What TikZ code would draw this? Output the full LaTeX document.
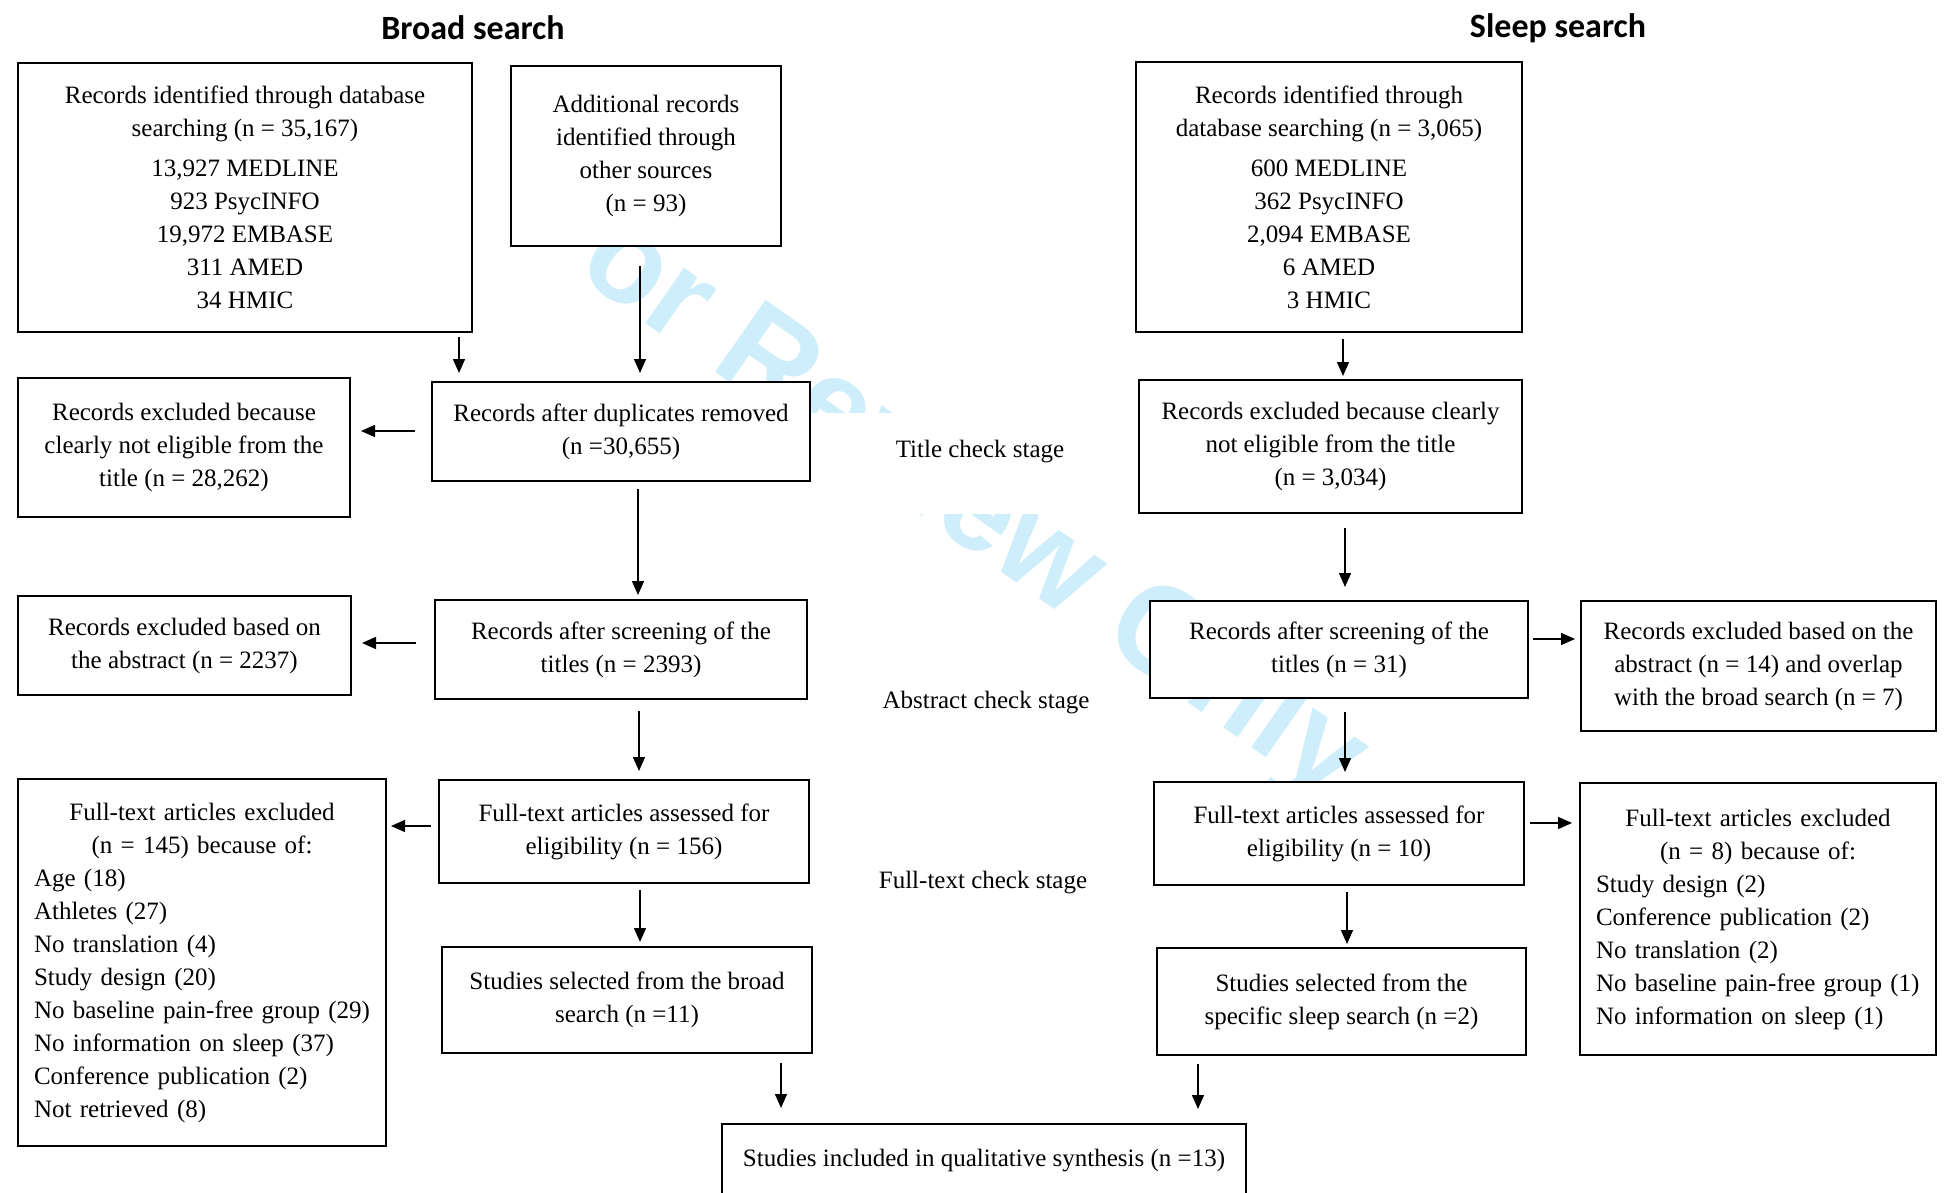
\documentclass[tikz,border=0pt]{standalone}
\usepackage{fontspec}
\setmainfont{Liberation Serif}
\newfontfamily\titlefont{Carlito}
\newfontfamily\markfont{Liberation Sans}
\usetikzlibrary{arrows.meta}
\definecolor{markblue}{RGB}{206,238,251}

\tikzstyle{box} = [draw, fill=white, line width=1pt, align=center, inner sep=0pt]
\tikzstyle{listbox} = [box, align=left]
\tikzstyle{stage} = [fill=white, inner sep=2pt]
\tikzstyle{heading} = [font=\titlefont\bfseries\fontsize{17}{20}\selectfont]
\tikzstyle{flow} = [-{Triangle[length=7pt,width=6pt]}, line width=0.75pt]

\begin{document}
\begin{tikzpicture}[x=0.5pt, y=-0.5pt, font=\fontsize{12.5}{16.5}\selectfont]
\path[use as bounding box, fill=white] (0,0) rectangle (1944,1193);
\clip (0,0) rectangle (1944,1193);
%watermark
\node[text=markblue, rotate=-35, font=\markfont\bfseries\fontsize{64}{64}\selectfont] (mark) at (940,489) {For Review Only};
%stages
\node[stage, anchor=north, minimum width=175pt, inner sep=0pt, text height=22pt, text depth=28.5pt] (titlestage) at (980,413) {Title check stage};
\node[stage] (abstractstage) at (986,703) {Abstract check stage};
\node[stage] (fulltextstage) at (983,883) {Full-text check stage};
%headings
\node[heading] (broad) at (473,28) {Broad search};
\node[heading] (sleep) at (1558,28) {Sleep search};

%begin broad search
\node[box, minimum width=227pt, minimum height=134.5pt] (bdb) at (245,197.5)
    {Records identified through database\\ searching (n = 35,167)\\[3.5pt]
     13,927 MEDLINE\\ 923 PsycINFO\\ 19,972 EMBASE\\ 311 AMED\\ 34 HMIC};
\node[box, minimum width=135pt, minimum height=90pt] (bother) at (646,156)
    {Additional records\\ identified through\\ other sources\\ (n = 93)};
\node[box, minimum width=189pt, minimum height=49.5pt] (bdup) at (621,431.5)
    {Records after duplicates removed\\ (n =30,655)};
\node[box, minimum width=166pt, minimum height=69.5pt] (btitle) at (184,447.5)
    {Records excluded because\\ clearly not eligible from the\\ title (n = 28,262)};
\node[box, minimum width=186pt, minimum height=49.5pt] (bscreen) at (621,649.5)
    {Records after screening of the\\ titles (n = 2393)};
\node[box, minimum width=166.5pt, minimum height=49.5pt] (babstract) at (184.5,645.5)
    {Records excluded based on\\ the abstract (n = 2237)};
\node[box, minimum width=185pt, minimum height=51.5pt] (bfull) at (624,831.5)
    {Full-text articles assessed for\\ eligibility (n = 156)};
\node[listbox, text width=168pt, minimum width=184pt, minimum height=183.5pt] (bfullex) at (202,962.5)
    {\noindent\makebox[\hsize]{Full-text articles excluded}\\
     \makebox[\hsize]{(n = 145) because of:}\\
     Age (18)\\ Athletes (27)\\ No translation (4)\\ Study design (20)\\
     No baseline pain-free group (29)\\ No information on sleep (37)\\
     Conference publication (2)\\ Not retrieved (8)};
\node[box, minimum width=185pt, minimum height=53pt] (bselect) at (627,1000)
    {Studies selected from the broad\\ search (n =11)};
%end broad search

%begin sleep search
\node[box, minimum width=193pt, minimum height=135pt] (sdb) at (1329,197)
    {Records identified through\\ database searching (n = 3,065)\\[3.5pt]
     600 MEDLINE\\ 362 PsycINFO\\ 2,094 EMBASE\\ 6 AMED\\ 3 HMIC};
\node[box, minimum width=191.5pt, minimum height=66.5pt] (stitle) at (1330.5,446.5)
    {Records excluded because clearly\\ not eligible from the title\\ (n = 3,034)};
\node[box, minimum width=189pt, minimum height=48.5pt] (sscreen) at (1339,649.5)
    {Records after screening of the\\ titles (n = 31)};
\node[box, minimum width=177.5pt, minimum height=65pt] (sabstract) at (1758.5,666)
    {Records excluded based on the\\ abstract (n = 14) and overlap\\ with the broad search (n = 7)};
\node[box, minimum width=185pt, minimum height=51.5pt] (sfull) at (1339,833.5)
    {Full-text articles assessed for\\ eligibility (n = 10)};
\node[listbox, text width=162pt, minimum width=178pt, minimum height=136pt] (sfullex) at (1758,919)
    {\noindent\makebox[\hsize]{Full-text articles excluded}\\
     \makebox[\hsize]{(n = 8) because of:}\\
     Study design (2)\\ Conference publication (2)\\ No translation (2)\\
     No baseline pain-free group (1)\\ No information on sleep (1)};
\node[box, minimum width=184.5pt, minimum height=53.5pt] (sselect) at (1341.5,1001.5)
    {Studies selected from the\\ specific sleep search (n =2)};
%end sleep search

\node[box, minimum width=262pt, minimum height=50pt] (final) at (984,1174)
    {Studies included in qualitative synthesis (n =13)\\ \mbox{}};

%begin arrows broad
\draw[flow, shorten <=2pt, shorten >=4pt] ([xshift=107pt]bdb.south) -- ([xshift=-81pt]bdup.north);
\draw[flow, shorten <=9.5pt, shorten >=4pt] ([xshift=-3pt]bother.south) -- ([xshift=9.5pt]bdup.north);
\draw[flow, shorten <=8pt, shorten >=5pt] ([yshift=0.25pt]bdup.west) -- ([yshift=8.25pt]btitle.east);
\draw[flow, shorten <=3.5pt, shorten >=2pt] ([xshift=8.5pt]bdup.south) -- ([xshift=8.5pt]bscreen.north);
\draw[flow, shorten <=9pt, shorten >=5pt] ([yshift=3.25pt]bscreen.west) -- ([yshift=1.25pt]babstract.east);
\draw[flow, shorten <=5.5pt, shorten >=4pt] ([xshift=9pt]bscreen.south) -- ([xshift=7.5pt]bfull.north);
\draw[flow, shorten <=3.5pt, shorten >=2pt] ([yshift=2.75pt]bfull.west) -- ([yshift=68.25pt]bfullex.east);
\draw[flow, shorten <=3pt, shorten >=2pt] ([xshift=8pt]bfull.south) -- ([xshift=6.5pt]bselect.north);
\draw[flow, shorten <=4.5pt, shorten >=7.5pt] ([xshift=77pt]bselect.south) -- ([xshift=-101.5pt]final.north);
%end arrows broad
%begin arrows sleep
\draw[flow, shorten <=3pt, shorten >=1.5pt] ([xshift=7pt]sdb.south) -- ([xshift=6.25pt]stitle.north);
\draw[flow, shorten <=7pt, shorten >=6.5pt] ([xshift=7.25pt]stitle.south) -- ([xshift=3pt]sscreen.north);
\draw[flow, shorten <=2pt, shorten >=2.5pt] ([yshift=5.25pt]sscreen.east) -- ([yshift=13.5pt]sabstract.west);
\draw[flow, shorten <=6.5pt, shorten >=4.5pt] ([xshift=3pt]sscreen.south) -- ([xshift=3pt]sfull.north);
\draw[flow, shorten <=2.5pt, shorten >=3.5pt] ([yshift=5.25pt]sfull.east) -- ([yshift=48pt]sfullex.west);
\draw[flow, shorten <=3pt, shorten >=1.5pt] ([xshift=4pt]sfull.south) -- ([xshift=2.75pt]sselect.north);
\draw[flow, shorten <=4pt, shorten >=7pt] ([xshift=-71.75pt]sselect.south) -- ([xshift=107pt]final.north);
%end arrows sleep
\end{tikzpicture}
\end{document}
